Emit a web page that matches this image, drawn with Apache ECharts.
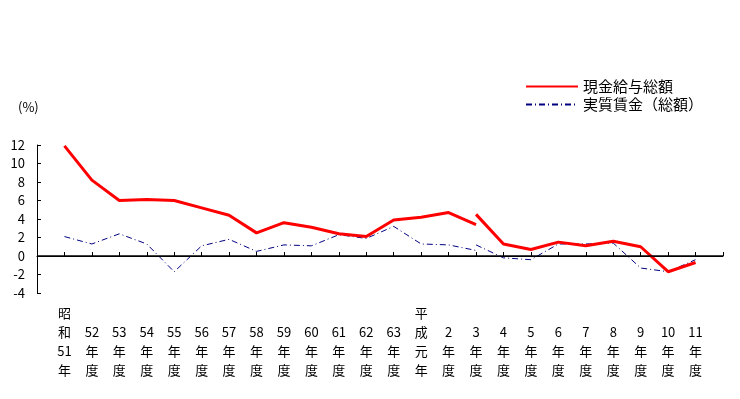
<!DOCTYPE html>
<html>
<head>
<meta charset="utf-8">
<script src="https://cdn.jsdelivr.net/npm/echarts@6/dist/echarts.min.js"></script>
<style>
    html, body { margin: 0; padding: 0; background: #fff; }
    #chart { width: 740px; height: 399px; }
</style>
</head>
<body>
<div id="chart"></div>
<script>
// fiscal years, 昭和51年 .. 平成11年度
const years = ['昭和51年', '52年度', '53年度', '54年度', '55年度', '56年度', '57年度', '58年度',
    '59年度', '60年度', '61年度', '62年度', '63年度', '平成元年', '2年度', '3年度',
    '4年度', '5年度', '6年度', '7年度', '8年度', '9年度', '10年度', '11年度'];

// 現金給与総額 - series breaks at 3年度
const wageOld = [11.9, 8.2, 6.0, 6.1, 6.0, 5.2, 4.4, 2.5, 3.6, 3.1, 2.4, 2.1, 3.9, 4.2, 4.7, 3.4];
const wageNew = [4.5, 1.3, 0.7, 1.5, 1.1, 1.6, 1.0, -1.7, -0.7];

// 実質賃金（総額）
const realOld = [2.1, 1.3, 2.4, 1.3, -1.7, 1.1, 1.8, 0.5, 1.2, 1.1, 2.3, 1.9, 3.2, 1.3, 1.2, 0.6];
const realNew = [1.2, -0.2, -0.4, 1.3, 1.3, 1.4, -1.3, -1.7, -0.4];

const yTicks = { min: -4, max: 12, interval: 2 };

const names = ['現金給与総額', '実質賃金（総額）'];
const breakIdx = years.indexOf('3年度');

// one empty slot on each end of the axis
const categories = [''].concat(years, ['']);

function place(values, start) {
    const out = categories.map(() => null);
    values.forEach((v, i) => { out[start + 1 + i] = v; });
    return out;
}

function verticalLabel(value) {
    if (!value) return '';
    const parts = value.match(/\d+|./g);
    while (parts.length < 4) parts.unshift('');
    return parts.join('\n');
}

const font = '"Noto Sans CJK JP", sans-serif';
const red = { color: '#ff0000', width: 3 };
const blue = { color: '#000080', width: 1, type: [6, 3, 1, 3] };

const chart = echarts.init(document.getElementById('chart'));

chart.setOption({
    animation: false,
    textStyle: { fontFamily: font, color: '#000' },
    grid: { left: 37, right: 17, top: 145, bottom: 106 },
    graphic: [{
        type: 'text',
        left: 18,
        top: 101,
        style: { text: '(%)', font: '13px ' + font, fill: '#000' }
    }],
    legend: {
        orient: 'vertical',
        left: 525,
        top: 79,
        padding: 0,
        itemWidth: 52,
        itemHeight: 14,
        itemGap: 3,
        itemStyle: { opacity: 0 },
        data: names,
        textStyle: { fontSize: 15, color: '#000' }
    },
    xAxis: {
        type: 'category',
        data: categories,
        boundaryGap: false,
        axisLine: { lineStyle: { color: '#000', width: 1 } },
        axisTick: { inside: true, length: 4, interval: 0, lineStyle: { color: '#000' } },
        axisLabel: {
            interval: 0,
            margin: 11,
            fontSize: 13,
            lineHeight: 19,
            color: '#000',
            formatter: verticalLabel
        },
        splitLine: { show: false }
    },
    yAxis: {
        type: 'value',
        min: yTicks.min,
        max: yTicks.max,
        interval: yTicks.interval,
        axisLine: { show: true, lineStyle: { color: '#000', width: 1 } },
        axisTick: { show: true, inside: true, length: 4, lineStyle: { color: '#000' } },
        axisLabel: { fontSize: 13, color: '#000', margin: 12 },
        splitLine: { show: false }
    },
    series: [
        {
            name: names[0], type: 'line', data: place(wageOld, 0),
            symbol: 'none', lineStyle: red, itemStyle: { color: red.color },
            markLine: {
                silent: true, symbol: 'none', label: { show: false },
                lineStyle: { color: '#000', width: 1.5, type: 'solid' },
                data: [{ yAxis: 0 }]
            },
            z: 3
        },
        {
            name: names[0], type: 'line', data: place(wageNew, breakIdx),
            symbol: 'none', lineStyle: red, itemStyle: { color: red.color }, z: 3
        },
        {
            name: names[1], type: 'line', data: place(realOld, 0),
            symbol: 'none', lineStyle: blue, itemStyle: { color: blue.color }, z: 2
        },
        {
            name: names[1], type: 'line', data: place(realNew, breakIdx),
            symbol: 'none', lineStyle: blue, itemStyle: { color: blue.color }, z: 2
        }
    ]
});
</script>
</body>
</html>
